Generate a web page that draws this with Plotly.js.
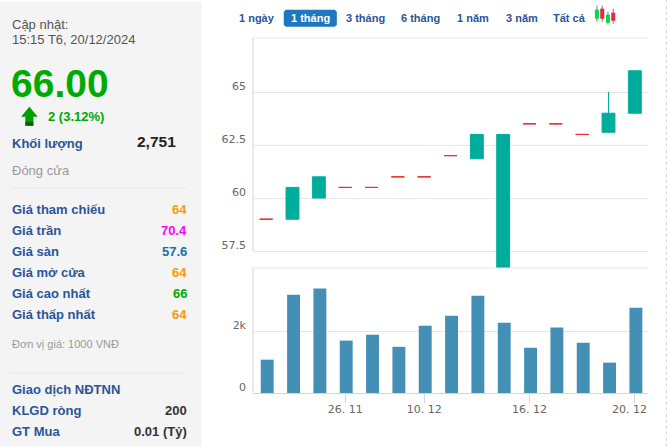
<!DOCTYPE html>
<html>
<head>
<meta charset="utf-8">
<script src="https://cdn.plot.ly/plotly-3.0.1.min.js"></script>
<style>html,body{margin:0;padding:0;background:#fff;overflow:hidden}#c{width:667px;height:447px}</style>
</head>
<body>
<div id="c"></div>
<script>
// Sessions (category axis)
var sessions = ['21. 11','22. 11','25. 11','26. 11','02. 12','09. 12','10. 12','11. 12','12. 12','13. 12','16. 12','17. 12','18. 12','19. 12','20. 12'];
// Real-bodied candles
var upDates = ['22. 11','25. 11','12. 12','13. 12','19. 12','20. 12'];
var upOpen  = [59.0, 60.0, 61.85, 56.0, 63.1, 64.0];
var upClose = [60.5, 61.0, 63.0, 63.0, 64.0, 66.0];
var upHigh  = [60.5, 61.0, 63.0, 63.0, 65.0, 66.0];
var upLow   = [59.0, 60.0, 61.85, 56.0, 63.1, 64.0];
// Flat candles (open = close)
var flatDates = ['21. 11','26. 11','02. 12','09. 12','10. 12','11. 12','16. 12','17. 12','18. 12'];
var flatPrice = [59.0, 60.5, 60.5, 61.0, 61.0, 62.0, 63.5, 63.5, 63.0];
var flatLow   = [59.0, 60.5, 60.5, 61.0, 61.0, 62.0, 63.5, 63.45, 63.0];
// Volume
var volumes = [1075, 3170, 3370, 1690, 1880, 1490, 2170, 2490, 3140, 2270, 1460, 2110, 1620, 980, 2751];
// Ticks
var priceTicks = [57.5, 60, 62.5, 65];
var priceTickText = ['57.5', '60', '62.5', '65'];
var volTicks = [0, 2000];
var volTickText = ['0', '2k'];
var dateTicks = ['26. 11', '10. 12', '16. 12', '20. 12'];
var dateTickText = ['26. 11', '10. 12', '16. 12', '20. 12\u00a0\u00a0\u00a0'];
// Side panel text
var rangeButtons = ['1 ngày', '1 tháng', '3 tháng', '6 tháng', '1 năm', '3 năm', 'Tất cả'];
var quoteLabels = ['Giá tham chiếu', 'Giá trần', 'Giá sàn', 'Giá mở cửa', 'Giá cao nhất', 'Giá thấp nhất'];
var quoteValues = ['64', '70.4', '57.6', '64', '66', '64'];
var quoteColors = ['#ff9900', '#ff00ff', '#1a6fa3', '#ff9900', '#00aa00', '#ff9900'];

// Layout in pixels
var W = 667, H = 447, L = 253.3, R = 647.7, T = 38.3, B = 393.3, MID = 268.3;
function px(x) { return (x - L) / (R - L); }
function py(y) { return (B - y) / (B - T); }
var FONT = 'Liberation Sans, Arial, sans-serif', BLUE = '#2a5599';

var annotations = [];
function txt(s, x, y, size, color, bold, anchor) {
  annotations.push({
    text: bold ? '<b>' + s + '</b>' : s, xref: 'paper', yref: 'paper', x: px(x), y: py(y),
    xanchor: anchor || 'left', yanchor: 'middle', showarrow: false,
    borderpad: 0, borderwidth: 0,
    font: { family: FONT, size: size, color: color }
  });
}
var shapes = [];
function rect(x0, y0, x1, y1, fill) {
  shapes.push({ type: 'rect', xref: 'paper', yref: 'paper', x0: px(x0), x1: px(x1), y0: py(y0), y1: py(y1), fillcolor: fill, line: { width: 0 }, layer: 'below' });
}
function line(x0, y0, x1, y1, color, w, dash) {
  shapes.push({ type: 'line', xref: 'paper', yref: 'paper', x0: px(x0), x1: px(x1), y0: py(y0), y1: py(y1), line: { color: color, width: w || 1, dash: dash || 'solid' }, layer: 'above' });
}
function poly(points, fill) {
  var d = points.map(function (p, i) { return (i ? 'L' : 'M') + px(p[0]) + ',' + py(p[1]); }).join(' ') + ' Z';
  shapes.push({ type: 'path', xref: 'paper', yref: 'paper', path: d, fillcolor: fill, line: { width: 0 }, layer: 'above' });
}

// Side panel
rect(0, 2, 202, H, '#f4f4f4');
txt('Cập nhật:', 12.5, 24.5, 13, '#555555');
txt('15:15 T6, 20/12/2024', 12.5, 39.5, 13, '#555555');
txt('66.00', 12, 84, 39, '#00aa00', true);
txt('2 (3.12%)', 49, 116.7, 13, '#00aa00', true);
poly([[30, 107], [38.3, 117], [34, 117], [34, 126], [26, 126], [26, 117], [21.7, 117]], '#00a000');
rect(26, 122, 34, 126, '#006600'); shapes[shapes.length - 1].layer = 'above';
txt('Khối lượng', 12.5, 143.5, 13, BLUE, true);
txt('2,751', 176, 142, 15.5, '#222222', true, 'right');
txt('Đóng cửa', 12.5, 171, 13, '#999999');
line(12, 188.3, 187, 188.3, '#e8e8e8');
for (var i = 0; i < quoteLabels.length; i++) {
  var rowY = 209.5 + i * 21;
  txt(quoteLabels[i], 12.5, rowY, 13, BLUE, true);
  txt(quoteValues[i], 187, rowY, 13, quoteColors[i], true, 'right');
}
txt('Đơn vị giá: 1000 VNĐ', 12.5, 344, 11, '#999999');
line(12, 373.3, 187, 373.3, '#e8e8e8');
txt('Giao dịch NĐTNN', 12.5, 389.7, 13, BLUE, true);
txt('KLGD ròng', 12.5, 410.7, 13, BLUE, true);
txt('200', 187, 410.7, 13, '#333333', true, 'right');
txt('GT Mua', 12.5, 431.7, 13, BLUE, true);
txt('0.01 (Tỷ)', 187, 431.7, 13, '#333333', true, 'right');

// Range buttons
var r = 2, bx0 = 284, bx1 = 337, by0 = 10, by1 = 27;
var round = [[bx0 + r, by0], [bx1 - r, by0], [bx1, by0 + r], [bx1, by1 - r], [bx1 - r, by1], [bx0 + r, by1], [bx0, by1 - r], [bx0, by0 + r]];
poly(round, '#1f78bf'); shapes[shapes.length - 1].layer = 'below';
var buttonX = [257.5, 310.5, 366, 421, 473, 521.5, 569.5];
rangeButtons.forEach(function (b, i) {
  txt(b, buttonX[i], 18.3, 11, i === 1 ? '#ffffff' : BLUE, true, 'center');
});

// Candle icon
[[596.7, 6, 22, 10, 19, '#00dd44'], [602, 6, 22, 9, 19, '#ee2244'], [607.7, 12, 25, 15, 23, '#00dd44'], [613, 9, 24, 13, 21, '#ee2244']].forEach(function (c) {
  line(c[0], c[1], c[0], c[2], '#777777');
  rect(c[0] - 2, c[3], c[0] + 2, c[4], c[5]); shapes[shapes.length - 1].layer = 'above';
});

// Chart frame lines
line(L, T, L, 251.3, '#ccd6eb');
line(L, MID, L, B, '#ccd6eb');
line(L, T, R, T, '#e6e6e6');
line(L, MID, R, MID, '#e6e6e6');
line(666, 0, 666, H, '#cccccc', 1, 'dot');

var traces = [
  {
    type: 'candlestick', x: upDates, open: upOpen, high: upHigh, low: upLow, close: upClose,
    xaxis: 'x', yaxis: 'y', whiskerwidth: 0, showlegend: false, hoverinfo: 'skip',
    increasing: { line: { color: '#00ad9c', width: 1 }, fillcolor: '#00ad9c' },
    decreasing: { line: { color: '#00ad9c', width: 1 }, fillcolor: '#00ad9c' }
  },
  {
    type: 'candlestick', x: flatDates, open: flatPrice, high: flatPrice, low: flatLow, close: flatPrice,
    xaxis: 'x', yaxis: 'y', whiskerwidth: 0, showlegend: false, hoverinfo: 'skip',
    increasing: { line: { color: '#f03030', width: 1 }, fillcolor: '#f03030' },
    decreasing: { line: { color: '#f03030', width: 1 }, fillcolor: '#f03030' }
  },
  {
    type: 'bar', x: sessions, y: volumes, xaxis: 'x', yaxis: 'y2', width: 0.49, offset: -0.205,
    marker: { color: '#448fb5', line: { width: 0 } }, showlegend: false, hoverinfo: 'skip'
  }
];

var axisFont = { family: 'DejaVu Sans, Verdana, sans-serif', size: 11, color: '#666666' };
var layout = {
  width: W, height: H, autosize: false,
  margin: { l: L, r: W - R, t: T, b: H - B, pad: 0 },
  paper_bgcolor: '#ffffff', plot_bgcolor: 'rgba(0,0,0,0)',
  showlegend: false, boxgap: 0.3, boxmode: 'overlay',
  xaxis: {
    type: 'category', categoryorder: 'array', categoryarray: sessions,
    range: [-0.5, 14.5], anchor: 'y2', fixedrange: true,
    rangeslider: { visible: false },
    tickmode: 'array', tickvals: dateTicks, ticktext: dateTickText,
    ticks: 'outside', ticklen: 9, tickwidth: 1, tickcolor: '#ccd6eb', tickangle: 0,
    showline: true, linecolor: '#ccd6eb', linewidth: 1, showgrid: false, zeroline: false,
    tickfont: axisFont, ticklabelstandoff: -3
  },
  yaxis: {
    domain: [(B - MID) / (B - T), 1], range: [56.7, 67.547], fixedrange: true,
    tickmode: 'array', tickvals: priceTicks, ticktext: priceTickText,
    ticks: '', showline: false, zeroline: false, gridcolor: '#e6e6e6', gridwidth: 1,
    tickfont: axisFont, ticklabelshift: -6, ticklabelstandoff: 6
  },
  yaxis2: {
    domain: [0, (B - MID) / (B - T)], range: [0, 4032], fixedrange: true,
    tickmode: 'array', tickvals: volTicks, ticktext: volTickText,
    ticks: '', showline: false, zeroline: false, gridcolor: '#e6e6e6', gridwidth: 1,
    tickfont: axisFont, ticklabelshift: -6, ticklabelstandoff: 6
  },
  shapes: shapes, annotations: annotations
};
Plotly.newPlot('c', traces, layout, { displayModeBar: false, staticPlot: true });
</script>
</body>
</html>
